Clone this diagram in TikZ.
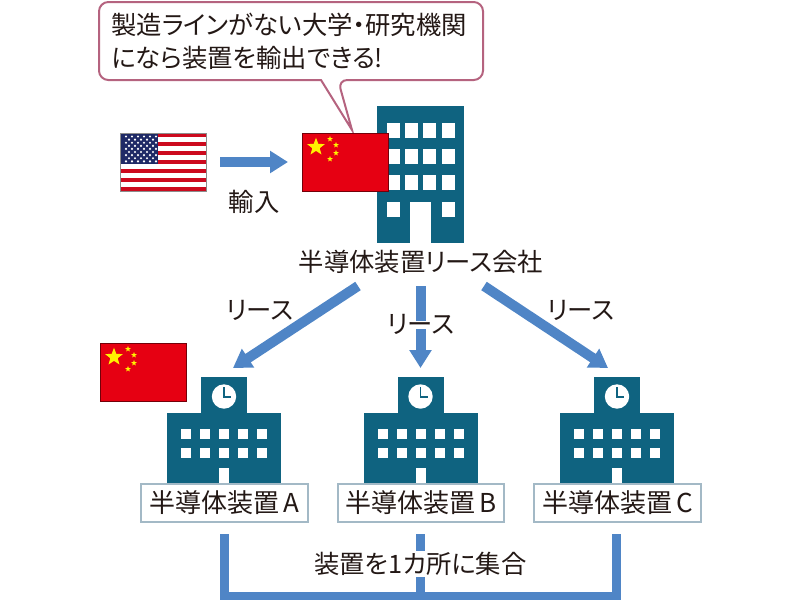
\documentclass[tikz,border=0pt]{standalone}
\usepackage{fontspec}
\setmainfont[RawFeature=+palt]{Noto Sans CJK JP}
\usetikzlibrary{arrows.meta,shapes.geometric}
\definecolor{bldcol}{HTML}{0F6380}
\definecolor{flowcol}{HTML}{4F85C6}
\definecolor{callcol}{HTML}{B5637F}
\definecolor{boxcol}{HTML}{A3B9C6}
\definecolor{redcol}{HTML}{E60012}
\definecolor{navycol}{HTML}{1F2A66}
\definecolor{stripecol}{HTML}{CC0A1E}
\definecolor{textcol}{HTML}{231815}
\tikzset{
    flow/.style={draw=flowcol,line width=7.5pt,-{Triangle[length=13.5pt,width=16pt]}},
    gather/.style={draw=flowcol,line width=6.75pt},
    label/.style={text=textcol,font=\fontsize{19}{24.75}\selectfont,inner sep=0pt},
    namebox/.style={draw=boxcol,line width=1.3pt,fill=white,text=textcol,font=\fontsize{19.5}{22}\selectfont,
        minimum width=125pt,minimum height=28.5pt,inner sep=0pt},
    block/.style={fill=bldcol,draw=none},
    pane/.style={fill=white,draw=none},
    flagframe/.style={draw=black!45,line width=0.5pt},
    smallstar/.style={star,star points=5,star point ratio=2.4,fill=yellow,inner sep=0pt,minimum size=4.5pt},
    bigstar/.style={star,star points=5,star point ratio=2.4,fill=yellow,inner sep=0pt,minimum size=14pt}
}
\begin{document}
\begin{tikzpicture}[x=0.75pt,y=-0.75pt]
    \useasboundingbox (0,0) rectangle (800,600);

    % speech bubble
    \draw[draw=callcol,line width=1.5pt,fill=white,rounded corners=7pt]
        (99,2) -- (483,2) -- (483,80) -- (338,80) [sharp corners] -- (352,130) -- (321,80)
        [rounded corners=7pt] -- (99,80) -- cycle;
    \node[label,align=left,anchor=west] (bubbletext) at (111,41.5)
        {製造ラインがない大学・研究機関\\になら装置を輸出できる!};

    % leasing company building
    \fill[block] (377,106) rectangle (464,243);
    \foreach \x in {387,405,423,442} {
        \foreach \y in {123,149,175} {
            \fill[pane] (\x,\y) rectangle +(13,15);};};
    \fill[pane] (387,202) rectangle +(13,15);
    \fill[pane] (442,202) rectangle +(13,15);
    \fill[pane] (410,202) rectangle (431,243);

    % US flag
    \fill[white] (120,133) rectangle (206,191);
    \foreach \s in {0,2,...,12} {
        \fill[stripecol] (120,133+\s*4.46) rectangle (206,133+\s*4.46+4.46);};
    \fill[navycol] (120,133) rectangle (158,164);
    \foreach \r in {0,...,8} {
        \pgfmathsetmacro{\odd}{int(mod(\r,2))}
        \foreach \c in {0,...,5} {
            \ifnum\odd=1
                \ifnum\c<5
                    \fill[white] (126+\c*6+3,136.5+\r*3.1) circle (1.2);
                \fi
            \else
                \fill[white] (126+\c*6,136.5+\r*3.1) circle (1.2);
            \fi};};
    \draw[flagframe] (120,133) rectangle (206,191);
    \coordinate (usaright) at (220,162);
    \coordinate (chinaleft) at (288,162);
    \draw[flow] (usaright) -- (chinaleft);
    \node[label] (importlabel) at (254,202) {輸入};

    % chinese flags
    \foreach \fx/\fy in {302/133,100/343} {
        \fill[redcol] (\fx,\fy) rectangle +(86,58);
        \draw[flagframe,draw=black!50!redcol] (\fx,\fy) rectangle +(86,58);
        \node[bigstar] at (\fx+14,\fy+14) {};
        \foreach \dx/\dy in {28/6,34/12,34/20,28/26} {
            \node[smallstar] at (\fx+\dx,\fy+\dy) {};};};

    % leasing arrows
    \node[label] (company) at (421,262) {半導体装置リース会社};
    \coordinate (leaseA) at (358,286);
    \coordinate (leaseB) at (420.5,286);
    \coordinate (leaseC) at (484,286);
    \coordinate (schoolA) at (233,368);
    \coordinate (schoolB) at (420.5,368);
    \coordinate (schoolC) at (608,368);
    \draw[flow] (leaseA) -- (schoolA);
    \draw[flow] (leaseB) -- (schoolB);
    \draw[flow] (leaseC) -- (schoolC);
    \node[label] (leaselabelA) at (260,310) {リース};
    \fill[white] (414,321) rectangle (427,329);
    \node[label] (leaselabelB) at (421,324) {リース};
    \node[label] (leaselabelC) at (581,310) {リース};

    % schools
    \foreach \x/\n in {224/A,420.5/B,617/C} {
        \fill[block] (\x-23,377) rectangle (\x+23,413);
        \fill[block] (\x-57,413) rectangle (\x+57,485);
        \fill[white] (\x,396.5) circle (12.2);
        \draw[bldcol,line width=1.2pt] (\x,387) -- (\x,397) -- (\x+7,397);
        \foreach \dx in {-43,-24,-5,14,33} {
            \foreach \y in {429,448} {
                \fill[pane] (\x+\dx,\y) rectangle +(10,10);};};
        \fill[pane] (\x-5,468) rectangle (\x+5,485);
        \node[namebox] (box\n) at (\x+0.5,503) {半導体装置\,\n};};

    % gather lines
    \coordinate (lineA) at (224.5,534);
    \coordinate (lineB) at (420.5,534);
    \coordinate (lineC) at (616.5,534);
    \coordinate (cornerA) at (224.5,596);
    \coordinate (cornerB) at (420.5,596);
    \coordinate (cornerC) at (616.5,596);
    \draw[gather] (lineA) -- (cornerA) -- (cornerC) -- (lineC);
    \draw[gather] (lineB) -- (cornerB);
    \node[label,fill=white,inner sep=1pt] (gatherlabel) at (420.5,564) {装置を1カ所に集合};
\end{tikzpicture}
\end{document}
